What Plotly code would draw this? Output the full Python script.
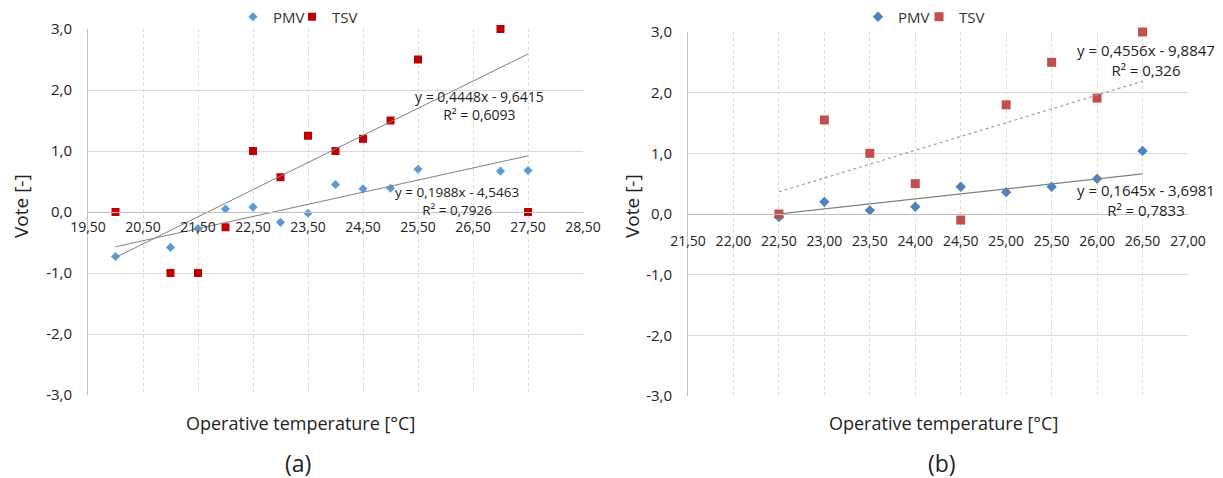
import plotly.graph_objects as go

# ---------------- data ----------------
# (a)
a_temp = [20.0, 21.0, 21.5, 22.0, 22.5, 23.0, 23.5, 24.0, 24.5, 25.0, 25.5, 27.0, 27.5]
a_pmv = [-0.73, -0.58, -0.27, 0.05, 0.08, -0.17, -0.02, 0.45, 0.38, 0.39, 0.70, 0.67, 0.68]
a_tsv = [0.0, -1.0, -1.0, -0.25, 1.0, 0.57, 1.25, 1.0, 1.2, 1.5, 2.5, 3.0, 0.0]
a_pmv_fit = [0.1988, -4.5463]
a_tsv_fit = [0.4448, -9.6415]
a_pmv_r2 = "0,7926"
a_tsv_r2 = "0,6093"
a_xticks = [19.5, 20.5, 21.5, 22.5, 23.5, 24.5, 25.5, 26.5, 27.5, 28.5]
a_xticktext = ["19,50", "20,50", "21,50", "22,50", "23,50", "24,50", "25,50", "26,50", "27,50", "28,50"]

# (b)
b_temp = [22.5, 23.0, 23.5, 24.0, 24.5, 25.0, 25.5, 26.0, 26.5]
b_pmv = [-0.05, 0.2, 0.06, 0.12, 0.45, 0.36, 0.45, 0.58, 1.04]
b_tsv = [0.0, 1.55, 1.0, 0.5, -0.1, 1.8, 2.5, 1.91, 3.0]
b_pmv_fit = [0.1645, -3.6981]
b_tsv_fit = [0.4556, -9.8847]
b_pmv_r2 = "0,7833"
b_tsv_r2 = "0,326"
b_xticks = [21.5, 22.0, 22.5, 23.0, 23.5, 24.0, 24.5, 25.0, 25.5, 26.0, 26.5, 27.0]
b_xticktext = ["21,50", "22,00", "22,50", "23,00", "23,50", "24,00", "24,50", "25,00", "25,50", "26,00", "26,50", "27,00"]

yticks = [-3, -2, -1, 0, 1, 2, 3]
yticktext = ["-3,0", "-2,0", "-1,0", "0,0", "1,0", "2,0", "3,0"]

# ---------------- layout helpers ----------------
OFF = 8                      # page body margin of the browser
W, H = 1223 - OFF, 478 - OFF
FONT = "Open Sans"
GRID = "#d9d9d9"
AXIS = "#bfbfbf"


def px_x(px):
    return (px - OFF) / W


def px_y(py):
    return 1 - (py - OFF) / H


def fmt(v):
    return f"{abs(v):.4f}".replace(".", ",")


def eq_text(fit, r2):
    sign = "-" if fit[1] < 0 else "+"
    return f"y = {fmt(fit[0])}x {sign} {fmt(fit[1])}<br>R² = {r2}"


fig = go.Figure()

# (a) traces
fig.add_trace(go.Scatter(x=a_temp, y=a_pmv, mode="markers", name="PMV", cliponaxis=False,
                         marker=dict(symbol="diamond", size=7, color="#5B9BD5"),
                         xaxis="x", yaxis="y", legend="legend"))
fig.add_trace(go.Scatter(x=a_temp, y=a_tsv, mode="markers", name="TSV", cliponaxis=False,
                         marker=dict(symbol="square", size=8, color="#C00000"),
                         xaxis="x", yaxis="y", legend="legend2"))
for fit in (a_tsv_fit, a_pmv_fit):
    xs = [min(a_temp), max(a_temp)]
    fig.add_trace(go.Scatter(x=xs, y=[fit[0] * v + fit[1] for v in xs], mode="lines",
                             line=dict(color="#808080", width=1), showlegend=False,
                             xaxis="x", yaxis="y", hoverinfo="skip"))

# (b) traces
fig.add_trace(go.Scatter(x=b_temp, y=b_pmv, mode="markers", name="PMV", cliponaxis=False,
                         marker=dict(symbol="diamond", size=8, color="#4F81BD"),
                         xaxis="x2", yaxis="y2", legend="legend3"))
fig.add_trace(go.Scatter(x=b_temp, y=b_tsv, mode="markers", name="TSV", cliponaxis=False,
                         marker=dict(symbol="square", size=9, color="#C0504D"),
                         xaxis="x2", yaxis="y2", legend="legend4"))
xs = [min(b_temp), max(b_temp)]
fig.add_trace(go.Scatter(x=xs, y=[b_tsv_fit[0] * v + b_tsv_fit[1] for v in xs], mode="lines",
                         line=dict(color="#a0a0a0", width=1.2, dash="dot"), showlegend=False,
                         xaxis="x2", yaxis="y2", hoverinfo="skip"))
fig.add_trace(go.Scatter(x=xs, y=[b_pmv_fit[0] * v + b_pmv_fit[1] for v in xs], mode="lines",
                         line=dict(color="#808080", width=1.2), showlegend=False,
                         xaxis="x2", yaxis="y2", hoverinfo="skip"))

a_dom_y = [px_y(395), px_y(29)]
b_dom_y = [px_y(396), px_y(32)]

xcommon = dict(showgrid=True, gridcolor=GRID, griddash="dot", gridwidth=1,
               showline=True, linecolor=AXIS, linewidth=1, zeroline=False, automargin=False,
               tickmode="array", ticks="outside", tickcolor="rgba(0,0,0,0)",
               tickfont=dict(family=FONT, size=14, color="#222"), anchor="free")
ycommon = dict(range=[-3, 3], tickvals=yticks, ticktext=yticktext, showgrid=True,
               gridcolor=GRID, gridwidth=1, showline=True, linecolor=AXIS, linewidth=1,
               zeroline=False, automargin=False, ticks="outside", tickcolor="rgba(0,0,0,0)",
               ticklen=12, tickfont=dict(family=FONT, size=15, color="#222"))

leg = dict(orientation="h", xanchor="left", yanchor="middle", y=px_y(17),
           font=dict(family=FONT, size=15, color="#333"), itemwidth=30,
           bgcolor="rgba(0,0,0,0)")

fig.update_layout(
    width=W, height=H,
    margin=dict(l=0, r=0, t=0, b=0, autoexpand=False),
    paper_bgcolor="white", plot_bgcolor="white",
    font=dict(family=FONT, color="#222"),
    xaxis=dict(xcommon, domain=[px_x(88), px_x(583)], range=[19.5, 28.5],
               tickvals=a_xticks, ticktext=a_xticktext, ticklen=2,
               position=(a_dom_y[0] + a_dom_y[1]) / 2),
    yaxis=dict(ycommon, domain=a_dom_y, anchor="x"),
    xaxis2=dict(xcommon, domain=[px_x(688), px_x(1188)], range=[21.5, 27.0],
                tickvals=b_xticks, ticktext=b_xticktext, ticklen=14,
                position=(b_dom_y[0] + b_dom_y[1]) / 2),
    yaxis2=dict(ycommon, domain=b_dom_y, anchor="x2"),
    legend=dict(leg, x=px_x(233)),
    legend2=dict(leg, x=px_x(292)),
    legend3=dict(leg, x=px_x(858)),
    legend4=dict(leg, x=px_x(919)),
)

annots = [
    dict(text=eq_text(a_tsv_fit, a_tsv_r2), x=px_x(479), y=px_y(106), size=14),
    dict(text=eq_text(a_pmv_fit, a_pmv_r2), x=px_x(457), y=px_y(201), size=13.5),
    dict(text=eq_text(b_tsv_fit, b_tsv_r2), x=px_x(1146), y=px_y(60), size=15),
    dict(text=eq_text(b_pmv_fit, b_pmv_r2), x=px_x(1146), y=px_y(200), size=15),
]
for a in annots:
    fig.add_annotation(text=a["text"], x=a["x"], y=a["y"], xref="paper", yref="paper",
                       xanchor="center", yanchor="middle", showarrow=False, align="center",
                       font=dict(family=FONT, size=a["size"], color="#222"))

# axis titles and panel labels
for xpx in (21, 632):
    fig.add_annotation(text="Vote [-]", x=px_x(xpx), y=px_y(206), xref="paper", yref="paper",
                       xanchor="center", yanchor="middle", showarrow=False, textangle=-90,
                       font=dict(family=FONT, size=19, color="#222"))
for xpx in (300, 943):
    fig.add_annotation(text="Operative temperature [°C]", x=px_x(xpx), y=px_y(423),
                       xref="paper", yref="paper", xanchor="center", yanchor="middle",
                       showarrow=False, font=dict(family=FONT, size=18, color="#222"))
for xpx, lab in ((298, "(a)"), (942, "(b)")):
    fig.add_annotation(text=lab, x=px_x(xpx), y=px_y(463), xref="paper", yref="paper",
                       xanchor="center", yanchor="middle", showarrow=False,
                       font=dict(family=FONT, size=23, color="#222"))

fig.write_html("out.html")
